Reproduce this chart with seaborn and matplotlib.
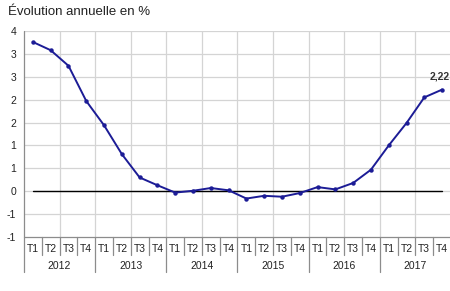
import matplotlib
matplotlib.use("Agg")
import matplotlib.pyplot as plt
import matplotlib.transforms as mtransforms
import numpy as np
import pandas as pd
import seaborn as sns

years = ["2012", "2013", "2014", "2015", "2016", "2017"]
quarters = ["T1", "T2", "T3", "T4"]
values = [3.26, 3.08, 2.74, 1.97, 1.44, 0.81, 0.30, 0.13,
          -0.03, 0.01, 0.07, 0.02, -0.16, -0.10, -0.12, -0.04,
          0.09, 0.04, 0.18, 0.47, 1.00, 1.49, 2.05, 2.22]
ytick_values = [3.5, 3.0, 2.5, 2.0, 1.5, 1.0, 0.5, 0.0, -0.5, -1.0]
ytick_labels = ["4", "3", "3", "2", "2", "1", "1", "0", "-1", "-1"]
title = "Évolution annuelle en %"
last_label = "2,22"

periods = [f"{y} {q}" for y in years for q in quarters]
df = pd.DataFrame({"period": periods, "value": values, "zero": [0.0] * len(periods)})

sns.set_style("white")
plt.rcParams["font.family"] = ["Liberation Sans", "DejaVu Sans"]

fig = plt.figure(figsize=(4.5, 2.91), dpi=100)
ax = fig.add_axes([24 / 450, 1 - 237 / 291, 427 / 450, (237 - 31) / 291])

grid_c = "#d4d4d4"
axis_c = "#8c8c8c"
line_c = "#1c1c96"

sns.lineplot(data=df, x="period", y="zero", sort=False, ax=ax, color="black",
             linewidth=1.0, zorder=3)
sns.lineplot(data=df, x="period", y="value", sort=False, ax=ax, color=line_c,
             linewidth=1.4, marker="o", markersize=3.2, markeredgewidth=0,
             zorder=4)

n = len(periods)
ax.set_xlim(-0.5, n - 0.5)
ax.set_ylim(-1.0, 3.5)
ax.set_yticks(ytick_values)
ax.set_yticklabels(ytick_labels)
ax.set_xticks(range(n))
ax.set_xticklabels([q for y in years for q in quarters])
ax.set_xlabel("")
ax.set_ylabel("")

for s in ax.spines.values():
    s.set_visible(False)
ax.grid(False)
for yv in ytick_values:
    if yv > -1.0:
        ax.axhline(yv, color=grid_c, linewidth=0.9, zorder=1)
for xv in np.arange(1.5, n, 2):
    ax.axvline(xv, color=grid_c, linewidth=0.9, zorder=1)

ax.tick_params(axis="y", which="major", length=2.5, width=0.8, color=axis_c,
               labelsize=7.5, pad=3, labelcolor="#222222")
ax.tick_params(axis="x", which="both", length=0, labelsize=7.5, pad=5,
               labelcolor="#222222")

trans = mtransforms.blended_transform_factory(ax.transData, ax.transAxes)
ax_h_px = 237 - 31
def yfrac(py):
    return (237 - py) / ax_h_px

# bottom axis line and left axis line
ax.plot([-0.5, n - 0.5], [0, 0], transform=trans, color=axis_c, lw=0.9,
        clip_on=False, zorder=5)
ax.plot([-0.5, -0.5], [1, yfrac(272)], transform=trans, color=axis_c, lw=0.9,
        clip_on=False, zorder=5)
for i in range(1, n):
    xv = i - 0.5
    bottom = yfrac(272) if i % 4 == 0 else yfrac(255)
    ax.plot([xv, xv], [0, bottom], transform=trans, color=axis_c, lw=0.9,
            clip_on=False, zorder=5)

for k, y in enumerate(years):
    ax.text(4 * k + 1.5, yfrac(266), y, transform=trans, ha="center",
            va="center", fontsize=7.5, color="#222222")

ax.annotate(last_label, xy=(n - 1, values[-1]), xytext=(-2, 6),
            textcoords="offset points", ha="center", va="bottom",
            fontsize=7.5, fontweight="bold", color="#333333")

fig.text(8 / 450, 1 - 12 / 291, title, ha="left", va="center", fontsize=9.5,
         color="#222222")

fig.savefig("out.png", dpi=100)
